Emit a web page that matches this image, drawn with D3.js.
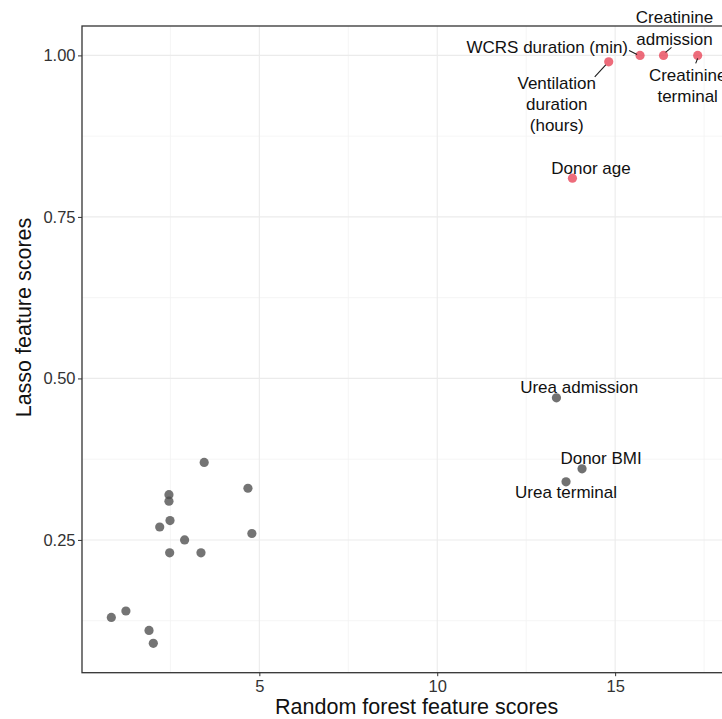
<!DOCTYPE html>
<html>
<head>
<meta charset="utf-8">
<script src="https://cdn.jsdelivr.net/npm/d3@7"></script>
<style>
  html, body { margin: 0; padding: 0; background: #fff; }
  svg { display: block; font-family: "Liberation Sans", Arial, sans-serif; }
</style>
</head>
<body>
<svg id="chart" width="722" height="719"></svg>
<script>
// ---- Data ----
const labeledNames = [
  "WCRS duration (min)", "Creatinine\nadmission", "Creatinine\nterminal",
  "Ventilation\nduration\n(hours)", "Donor age",
  "Urea admission", "Donor BMI", "Urea terminal"
];
const labeledRF    = [15.70, 16.36, 17.32, 14.82, 13.80, 13.35, 14.07, 13.62];
const labeledLasso = [1.00, 1.00, 1.00, 0.99, 0.81, 0.47, 0.36, 0.34];
const labeledSelected = [true, true, true, true, true, false, false, false];

const otherRF    = [3.45, 4.68, 2.46, 2.46, 2.49, 2.20, 4.79, 2.90, 2.48, 3.36, 1.25, 0.84, 1.90, 2.02];
const otherLasso = [0.37, 0.33, 0.32, 0.31, 0.28, 0.27, 0.26, 0.25, 0.23, 0.23, 0.14, 0.13, 0.11, 0.09];

const xTicks = [5, 10, 15];
const yTicks = [0.25, 0.50, 0.75, 1.00];
const xMinor = [2.5, 7.5, 12.5, 17.5];
const yMinor = [0.125, 0.375, 0.625, 0.875];

const xTitle = "Random forest feature scores";
const yTitle = "Lasso feature scores";

// ---- Layout (label placement, pixel offsets from the point) ----
const labelLayout = {
  "WCRS duration (min)":            { dx: -12, dy: -2, anchor: "end",    seg: [[-11, -5], [-3, -1]] },
  "Creatinine\nadmission":          { dx: 11,  dy: -32, anchor: "middle", seg: [[8, -8], [2, -3]] },
  "Creatinine\nterminal":           { dx: -10, dy: 25.5, anchor: "middle", seg: [[-2, 8], [0, 3]] },
  "Ventilation\nduration\n(hours)": { dx: -52, dy: 27, anchor: "middle", seg: [[-14, 15], [-3, 3]] },
  "Donor age":                      { dx: 18.6, dy: -4.3, anchor: "middle" },
  "Urea admission":                 { dx: 22.8, dy: -5, anchor: "middle" },
  "Donor BMI":                      { dx: 19,  dy: -5, anchor: "middle" },
  "Urea terminal":                  { dx: 0,   dy: 16.6, anchor: "middle" }
};
const lineHeight = 21.2;

// ---- Scales ----
const allX = labeledRF.concat(otherRF);
const allY = labeledLasso.concat(otherLasso);
function expand(ext) { const r = ext[1] - ext[0]; return [ext[0] - 0.05 * r, ext[1] + 0.05 * r]; }

const panel = { left: 82, top: 26, right: 727, bottom: 672.7 };
const x = d3.scaleLinear().domain(expand(d3.extent(allX))).range([panel.left, panel.right]);
const y = d3.scaleLinear().domain(expand(d3.extent(allY))).range([panel.bottom, panel.top]);

const svg = d3.select("#chart");
const W = 722, H = 719;

const clip = svg.append("defs").append("clipPath").attr("id", "panelClip")
  .append("rect").attr("x", panel.left).attr("y", panel.top)
  .attr("width", panel.right - panel.left).attr("height", panel.bottom - panel.top);

// Grid
const grid = svg.append("g");
grid.selectAll("line.xminor").data(xMinor).join("line")
  .attr("x1", d => x(d)).attr("x2", d => x(d)).attr("y1", panel.top).attr("y2", panel.bottom)
  .attr("stroke", "#f2f2f2").attr("stroke-width", 0.8);
grid.selectAll("line.yminor").data(yMinor).join("line")
  .attr("y1", d => y(d)).attr("y2", d => y(d)).attr("x1", panel.left).attr("x2", panel.right)
  .attr("stroke", "#f2f2f2").attr("stroke-width", 0.8);
grid.selectAll("line.xmajor").data(xTicks).join("line")
  .attr("x1", d => x(d)).attr("x2", d => x(d)).attr("y1", panel.top).attr("y2", panel.bottom)
  .attr("stroke", "#ebebeb").attr("stroke-width", 1.1);
grid.selectAll("line.ymajor").data(yTicks).join("line")
  .attr("y1", d => y(d)).attr("y2", d => y(d)).attr("x1", panel.left).attr("x2", panel.right)
  .attr("stroke", "#ebebeb").attr("stroke-width", 1.1);

// Axes
const xAxis = svg.append("g").attr("transform", `translate(0,${panel.bottom})`)
  .call(d3.axisBottom(x).tickValues(xTicks).tickFormat(d3.format("d")).tickSize(3.5).tickPadding(4));
const yAxis = svg.append("g").attr("transform", `translate(${panel.left},0)`)
  .call(d3.axisLeft(y).tickValues(yTicks).tickFormat(d3.format(".2f")).tickSize(4).tickPadding(2.5));
[xAxis, yAxis].forEach(a => {
  a.select(".domain").remove();
  a.selectAll(".tick line").attr("stroke", "#333").attr("stroke-width", 1);
  a.selectAll(".tick text").attr("fill", "#333").style("font-size", "16.5px")
    .style("font-family", "'Liberation Sans', Arial, sans-serif");
});

// Points
const pts = svg.append("g").attr("clip-path", "url(#panelClip)");
pts.selectAll("circle.other").data(d3.range(otherRF.length)).join("circle")
  .attr("cx", i => x(otherRF[i])).attr("cy", i => y(otherLasso[i])).attr("r", 4.6)
  .attr("fill", "#4d4d4d").attr("fill-opacity", 0.78);
pts.selectAll("circle.lab").data(d3.range(labeledRF.length)).join("circle")
  .attr("cx", i => x(labeledRF[i])).attr("cy", i => y(labeledLasso[i])).attr("r", 4.6)
  .attr("fill", i => labeledSelected[i] ? "#e8475a" : "#4d4d4d").attr("fill-opacity", 0.8);

// Labels and leader segments
const labG = svg.append("g");
labeledNames.forEach((name, i) => {
  const L = labelLayout[name];
  const px = x(labeledRF[i]), py = y(labeledLasso[i]);
  if (L.seg) {
    labG.append("line")
      .attr("x1", px + L.seg[0][0]).attr("y1", py + L.seg[0][1])
      .attr("x2", px + L.seg[1][0]).attr("y2", py + L.seg[1][1])
      .attr("stroke", "#1a1a1a").attr("stroke-width", 1.1);
  }
  const lines = name.split("\n");
  const t = labG.append("text")
    .attr("x", px + L.dx).attr("y", py + L.dy)
    .attr("text-anchor", L.anchor)
    .attr("fill", "#111").style("font-size", "17px");
  lines.forEach((ln, k) => {
    t.append("tspan").attr("x", px + L.dx).attr("dy", k === 0 ? 0 : lineHeight).text(ln);
  });
});

// Panel border
svg.append("rect").attr("x", panel.left).attr("y", panel.top)
  .attr("width", panel.right - panel.left).attr("height", panel.bottom - panel.top)
  .attr("fill", "none").attr("stroke", "#333").attr("stroke-width", 1.3);

// Axis titles
svg.append("text").attr("x", 416.7).attr("y", 714).attr("text-anchor", "middle")
  .attr("fill", "#111").style("font-size", "21.5px").text(xTitle);
svg.append("text").attr("transform", "translate(31,317.5) rotate(-90)").attr("text-anchor", "middle")
  .attr("fill", "#111").style("font-size", "21.5px").text(yTitle);
</script>
</body>
</html>
